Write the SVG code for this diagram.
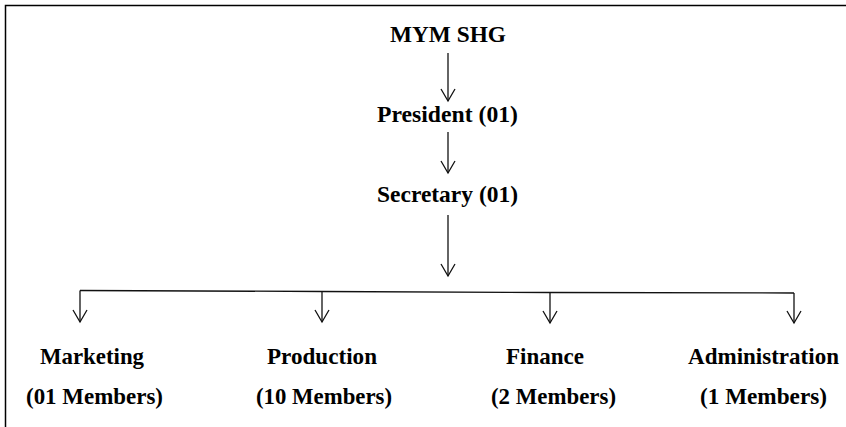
<svg xmlns="http://www.w3.org/2000/svg" width="846" height="427" viewBox="0 0 846 427">
<defs>
<style>
.t{font-family:"Liberation Serif","Times New Roman",serif;font-weight:bold;font-size:23px;fill:#000;text-anchor:middle}
.c{stroke:#111;stroke-width:1.3;fill:none}
</style>
<marker id="ah" markerWidth="16" markerHeight="16" viewBox="-14 -8 16 16" refX="0" refY="0" orient="auto" markerUnits="userSpaceOnUse">
<path d="M-12,-7 L0,0 L-12,7" fill="none" stroke="#111" stroke-width="1.3"/>
</marker>
</defs>
<rect x="0" y="0" width="846" height="427" fill="#fff"/>
<path d="M5.5,427 L5.5,5.5 L846,5.5" fill="none" stroke="#000" stroke-width="1.5"/>
<g id="n-mym"><text class="t" x="448" y="42" textLength="116" lengthAdjust="spacingAndGlyphs">MYM SHG</text></g>
<g id="n-president"><text class="t" x="447.5" y="122" textLength="141" lengthAdjust="spacingAndGlyphs">President  (01)</text></g>
<g id="n-secretary"><text class="t" x="447.5" y="202" textLength="141" lengthAdjust="spacingAndGlyphs">Secretary  (01)</text></g>
<g id="n-marketing"><text class="t" x="92" y="364" textLength="104" lengthAdjust="spacingAndGlyphs">Marketing</text><text class="t" x="94.5" y="404" textLength="137" lengthAdjust="spacingAndGlyphs">(01 Members)</text></g>
<g id="n-production"><text class="t" x="322" y="364" textLength="110" lengthAdjust="spacingAndGlyphs">Production</text><text class="t" x="324" y="404" textLength="136" lengthAdjust="spacingAndGlyphs">(10 Members)</text></g>
<g id="n-finance"><text class="t" x="545" y="364" textLength="78" lengthAdjust="spacingAndGlyphs">Finance</text><text class="t" x="553.5" y="404" textLength="125" lengthAdjust="spacingAndGlyphs">(2 Members)</text></g>
<g id="n-admin"><text class="t" x="763.5" y="364" textLength="151" lengthAdjust="spacingAndGlyphs">Administration</text><text class="t" x="763.5" y="404" textLength="127" lengthAdjust="spacingAndGlyphs">(1 Members)</text></g>
<g id="connectors" class="c">
<line x1="448" y1="53" x2="448" y2="101" marker-end="url(#ah)"/>
<line x1="448" y1="132" x2="448" y2="173" marker-end="url(#ah)"/>
<line x1="448" y1="215" x2="448" y2="276" marker-end="url(#ah)"/>
<polyline points="80,290.5 322,291.5 550,292.5 794,293"/>
<line x1="80" y1="290.5" x2="80" y2="322" marker-end="url(#ah)"/>
<line x1="322" y1="291.5" x2="322" y2="322" marker-end="url(#ah)"/>
<line x1="550" y1="292.5" x2="550" y2="323" marker-end="url(#ah)"/>
<line x1="794" y1="293" x2="794" y2="323" marker-end="url(#ah)"/>
</g>
</svg>
